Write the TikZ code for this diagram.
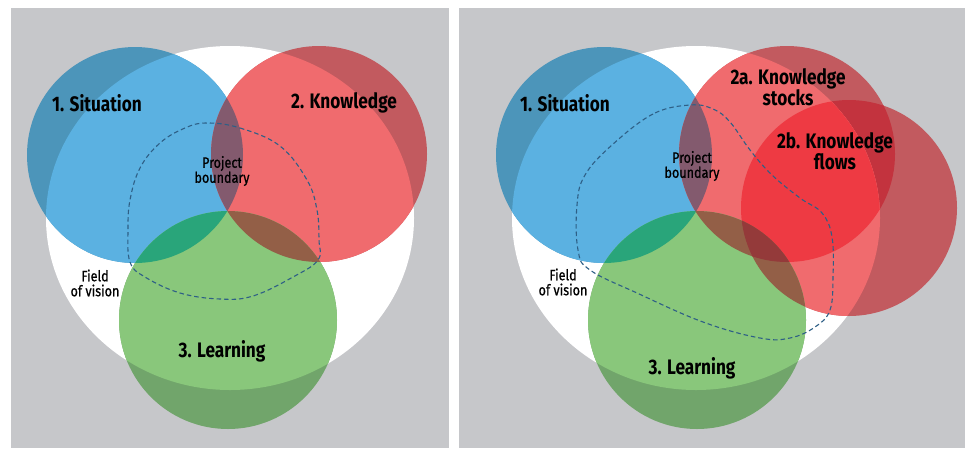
\documentclass[tikz,border=0pt]{standalone}
\usepackage{fontspec}
\newfontfamily\labelfont[FakeStretch=0.82]{Fira Sans}
\newfontfamily\notefont[FakeStretch=0.84, FakeBold=0.8]{Fira Sans}

\definecolor{panelgray}{HTML}{C6C7CA}
\definecolor{sitlight}{HTML}{5BB1E1}
\definecolor{sitdark}{HTML}{4C95BA}
\definecolor{knowlight}{HTML}{F06B6E}
\definecolor{knowdark}{HTML}{C25A5F}
\definecolor{knowboth}{HTML}{EE3A43}
\definecolor{knowbothdark}{HTML}{C3333E}
\definecolor{learnlight}{HTML}{89C77B}
\definecolor{learndark}{HTML}{71A56B}
\definecolor{sitknow}{HTML}{835A6E}
\definecolor{sitlearn}{HTML}{29A57A}
\definecolor{knowlearn}{HTML}{935F47}
\definecolor{bothlearn}{HTML}{943A3A}
\definecolor{boundaryblue}{HTML}{2E5F86}

% circles, left panel
\def\fieldL{(230,218) ellipse [x radius=184pt, y radius=172pt]}
\def\sitL{(135,155) circle [radius=108pt]}
\def\knowL{(319,154) circle [radius=108pt]}
\def\learnL{(228,320) circle [radius=109pt]}
% circles, right panel
\def\fieldR{(696,218) ellipse [x radius=184pt, y radius=172pt]}
\def\sitR{(604,155) circle [radius=108pt]}
\def\stocksR{(787,154) circle [radius=108pt]}
\def\flowsR{(849,208) circle [radius=108pt]}
\def\learnR{(697,320) circle [radius=109pt]}

\begin{document}
\begin{tikzpicture}[x=1pt, y=-1pt,
    big/.style={font=\labelfont\bfseries\fontsize{21}{21}\selectfont, align=center, inner sep=0pt},
    small/.style={font=\notefont\fontsize{15}{15}\selectfont, align=center, inner sep=0pt},
    boundary line/.style={draw=boundaryblue, dash pattern=on 4.5pt off 3pt, line width=1.1pt}]
        \useasboundingbox (0,0) rectangle (965,448);

        % Panels
        \fill[panelgray] (11,8) rectangle (449,448);
        \fill[panelgray] (459,8) rectangle (965,448);

        % ---------------- left panel ----------------
        % Field of vision
        \fill[white] \fieldL;

        % Circles over the gray
        \fill[sitdark] \sitL;
        \fill[knowdark] \knowL;
        \fill[learndark] \learnL;

        % Circles inside the field
        \begin{scope}
            \clip \fieldL;
            \fill[sitlight] \sitL;
            \fill[knowlight] \knowL;
            \fill[learnlight] \learnL;
        \end{scope}

        % Overlaps
        \begin{scope}
            \clip \sitL;
            \fill[sitknow] \knowL;
            \fill[sitlearn] \learnL;
        \end{scope}
        \begin{scope}
            \clip \knowL;
            \fill[knowlearn] \learnL;
        \end{scope}

        % Project boundary
        \draw[boundary line] plot[smooth cycle, tension=0.65] coordinates {(207,123) (240,128) (280,146) (307,180) (317,210) (319,240) (318,260) (293,277) (253,296) (220,299) (180,293) (145,277) (130,262) (128,230) (130,200) (140,168) (160,143) (185,128)};

        % Labels
        \node[big] (situationL) at (97,103) {1. Situation};
        \node[big] (knowledgeL) at (344,103) {2. Knowledge};
        \node[big] (learningL) at (222,351) {3. Learning};
        \node[small] (projectL) at (222,171) {Project\\boundary};
        \node[small] (fieldtextL) at (95,283) {Field\\of vision};

        % ---------------- right panel ----------------
        % Field of vision
        \fill[white] \fieldR;

        % Circles over the gray
        \fill[sitdark] \sitR;
        \fill[knowdark] \stocksR;
        \fill[knowdark] \flowsR;
        \fill[learndark] \learnR;
        \begin{scope}
            \clip \stocksR;
            \fill[knowbothdark] \flowsR;
        \end{scope}

        % Circles inside the field
        \begin{scope}
            \clip \fieldR;
            \fill[sitlight] \sitR;
            \fill[knowlight] \stocksR;
            \fill[knowlight] \flowsR;
            \fill[learnlight] \learnR;
            \clip \stocksR;
            \fill[knowboth] \flowsR;
        \end{scope}

        % Overlaps
        \begin{scope}
            \clip \sitR;
            \fill[sitknow] \stocksR;
            \fill[sitlearn] \learnR;
        \end{scope}
        \begin{scope}
            \clip \learnR;
            \fill[knowlearn] \stocksR;
            \fill[knowlearn] \flowsR;
            \clip \stocksR;
            \fill[bothlearn] \flowsR;
        \end{scope}

        % Project boundary
        \draw[boundary line] plot[smooth cycle, tension=0.65] coordinates {(690,105) (653,114) (612,145) (585,175) (577,205) (578,250) (590,270) (637,293) (703,322) (760,338) (790,338) (815,327) (830,310) (833,277) (832,237) (822,213) (800,198) (772,175) (750,150) (730,122) (713,109)};

        % Labels
        \node[big] (situationR) at (565,103) {1. Situation};
        \node[big] (stocksR) at (788,87) {2a. Knowledge\\stocks};
        \node[big] (flowsR) at (835,151) {2b. Knowledge\\flows};
        \node[big] (learningR) at (692,368) {3. Learning};
        \node[small] (projectR) at (692,166) {Project\\boundary};
        \node[small] (fieldtextR) at (563,282) {Field\\of vision};
\end{tikzpicture}
\end{document}
